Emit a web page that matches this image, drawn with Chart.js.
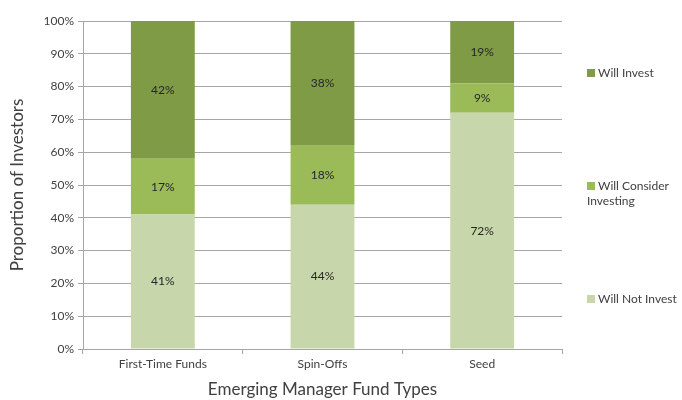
<!DOCTYPE html>
<html>
<head>
<meta charset="utf-8">
<script src="https://cdn.jsdelivr.net/npm/chart.js@4"></script>
<style>
  html, body { margin: 0; padding: 0; background: #fff; }
  #wrap { position: relative; width: 682px; height: 400px; }
  #legend { position: absolute; left: 587px; top: 0; font-family: Lato, sans-serif; font-size: 12px; color: #404040; }
  .item { position: absolute; left: 0; width: 100px; line-height: 15px; }
  .box { display: inline-block; width: 8px; height: 8px; margin-right: 3px; }
</style>
</head>
<body>
<div id="wrap">
  <canvas id="myChart" width="682" height="400"></canvas>
  <div id="legend"></div>
</div>
<script>
const categories = ['First-Time Funds', 'Spin-Offs', 'Seed'];
const willNotInvest = [41, 44, 72];
const willConsider = [17, 18, 9];
const willInvest = [42, 38, 19];
const yTicks = [0, 10, 20, 30, 40, 50, 60, 70, 80, 90, 100];

const FONT = 'Lato, sans-serif';

// value labels in the middle of each segment
const barLabels = {
  id: 'barLabels',
  afterDatasetsDraw(chart) {
    const ctx = chart.ctx;
    ctx.save();
    ctx.font = '12px ' + FONT;
    ctx.fillStyle = '#262626';
    ctx.textAlign = 'center';
    ctx.textBaseline = 'middle';
    chart.data.datasets.forEach((ds, i) => {
      chart.getDatasetMeta(i).data.forEach((bar, j) => {
        const mid = (bar.y + bar.base) / 2;
        ctx.fillText(ds.data[j] + '%', bar.x, mid);
      });
    });
    ctx.restore();
  }
};

const ctx = document.getElementById('myChart');
const chart = new Chart(ctx, {
  type: 'bar',
  data: {
    labels: categories,
    datasets: [
      { label: 'Will Not Invest', data: willNotInvest, backgroundColor: '#c8d7ab' },
      { label: 'Will Consider Investing', data: willConsider, backgroundColor: '#9bbb59' },
      { label: 'Will Invest', data: willInvest, backgroundColor: '#7f9b45' }
    ]
  },
  options: {
    responsive: false,
    animation: false,
    layout: { padding: { left: 7, right: 120, top: 21, bottom: 0 } },
    plugins: {
      legend: { display: false },
      tooltip: { enabled: false }
    },
    datasets: { bar: { categoryPercentage: 1, barPercentage: 0.4 } },
    scales: {
      x: {
        stacked: true,
        grid: { offset: true, drawOnChartArea: false, color: '#a6a6a6', tickLength: 5 },
        border: { color: '#a6a6a6' },
        ticks: { color: '#404040', font: { family: FONT, size: 12 }, padding: 3 },
        title: { display: true, text: 'Emerging Manager Fund Types', color: '#404040', font: { family: FONT, size: 17 }, padding: { top: 8, bottom: 0 } },
        afterFit(s) { s.height = 51; }
      },
      y: {
        stacked: true,
        min: 0,
        max: 100,
        afterBuildTicks(s) { s.ticks = yTicks.map(v => ({ value: v })); },
        grid: { color: '#a6a6a6', tickLength: 5 },
        border: { color: '#a6a6a6' },
        ticks: { color: '#404040', font: { family: FONT, size: 12 }, padding: 4, callback: v => v + '%' },
        title: { display: true, text: 'Proportion of Investors', color: '#404040', font: { family: FONT, size: 17 }, padding: { top: 0, bottom: 8 } },
        afterFit(s) { s.width = 76; }
      }
    }
  },
  plugins: [barLabels]
});

// legend placed beside the plot, spread over its height like the original
const legendEl = document.getElementById('legend');
const legendTops = { 'Will Invest': 65, 'Will Consider Investing': 178, 'Will Not Invest': 291 };
chart.data.datasets.forEach(ds => {
  const div = document.createElement('div');
  div.className = 'item';
  div.style.top = legendTops[ds.label] + 'px';
  const parts = ds.label === 'Will Consider Investing' ? 'Will Consider<br>Investing' : ds.label;
  div.innerHTML = '<span class="box" style="background:' + ds.backgroundColor + '"></span>' + parts;
  legendEl.appendChild(div);
});
</script>
</body>
</html>
